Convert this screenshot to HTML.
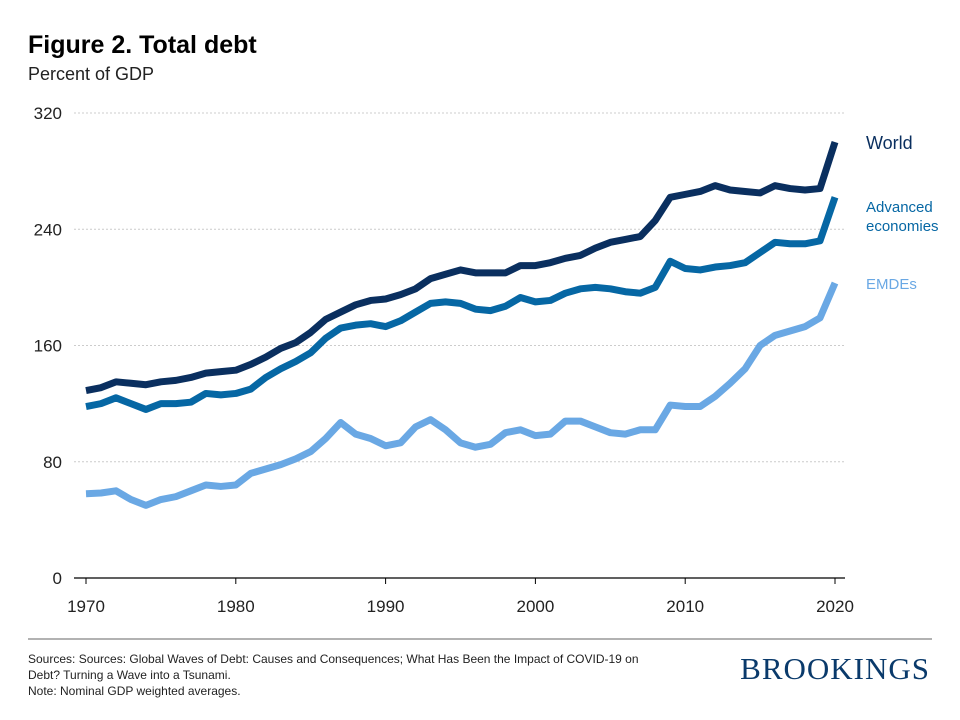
<!DOCTYPE html>
<html><head><meta charset="utf-8"><style>
body{margin:0;background:#fff;font-family:"Liberation Sans",sans-serif;}
#wrap{position:relative;width:960px;height:720px;overflow:hidden;}
</style></head><body>
<div id="wrap">
<svg id="chart" width="960" height="720">
<text x="28" y="53" font-size="25" font-weight="bold" fill="#000">Figure 2. Total debt</text>
<text x="28" y="80" font-size="18" fill="#222">Percent of GDP</text>
<g id="grid"></g><g id="lines"></g><g id="labels"></g>
<line x1="28" y1="639" x2="932" y2="639" stroke="#666" stroke-width="1"/>
<text font-size="12" fill="#222"><tspan x="28" y="663">Sources: Sources: Global Waves of Debt: Causes and Consequences; What Has Been the Impact of COVID-19 on</tspan><tspan x="28" y="679">Debt? Turning  a Wave into a Tsunami.</tspan><tspan x="28" y="695">Note: Nominal  GDP weighted  averages.</tspan></text>
<text x="930" y="679" text-anchor="end" font-family="Liberation Serif,serif" font-size="31" fill="#0a3a6b" letter-spacing="1">BROOKINGS</text>
</svg></div>
<script>
const years=[];for(let y=1970;y<=2020;y++)years.push(y);
const world=[129,131,135,134,133,135,136,138,141,142,143,147,152,158,162,169,178,183,188,191,192,195,199,206,209,212,210,210,210,215,215,217,220,222,227,231,233,235,246,262,264,266,270,267,266,265,270,268,267,268,300];
const advanced=[118,120,124,120,116,120,120,121,127,126,127,130,138,144,149,155,165,172,174,175,173,177,183,189,190,189,185,184,187,193,190,191,196,199,200,199,197,196,200,218,213,212,214,215,217,224,231,230,230,232,262];
const emdes=[58,58.5,60,54,50,54,56,60,64,63,64,72,75,78,82,87,96,107,99,96,91,93,104,109,102,93,90,92,100,102,98,99,108,108,104,100,99,102,102,119,118,118,125,134,144,160,167,170,173,179,203];
const yTicks=[0,80,160,240,320];
const xTicks=[1970,1980,1990,2000,2010,2020];
const NS="http://www.w3.org/2000/svg";
const X=v=>86+(v-1970)*(749/50);
const Y=v=>578-v*(465/320);
function mk(t,a,p){const e=document.createElementNS(NS,t);for(const k in a)e.setAttribute(k,a[k]);p.appendChild(e);return e;}
const grid=document.getElementById('grid'),lines=document.getElementById('lines'),labels=document.getElementById('labels');
yTicks.forEach(v=>{
 if(v>0){const g=mk('line',{x1:74,x2:845,y1:Y(v),y2:Y(v),stroke:'#ccc','stroke-dasharray':'2,2'},grid);
 
 }
 const t=mk('text',{x:62,y:Y(v)+6,'text-anchor':'end','font-size':17,fill:'#222'},labels);t.textContent=v;
 
 
});
const ax=mk('line',{x1:74,x2:845,y1:578,y2:578,stroke:'#000','stroke-width':1.2},grid);


xTicks.forEach(v=>{
 const tk=mk('line',{x1:X(v),x2:X(v),y1:578,y2:584,stroke:'#000'},grid);
 
 
 const t=mk('text',{x:X(v),y:612,'text-anchor':'middle','font-size':17,fill:'#222'},labels);t.textContent=v;
 
 
});
function series(data,color,name){
 const p=mk('polyline',{points:data.map((v,i)=>X(years[i])+','+Y(v)).join(' '),fill:'none',stroke:color,'stroke-width':7,'stroke-linejoin':'round'},lines);
 
 
}
series(emdes,'#6aa8e4','emdes-line');
series(advanced,'#0667a4','advanced-line');
series(world,'#0a2f5f','world-line');
function lab(txt,x,y,c,sz,name){const t=mk('text',{x:x,y:y,'font-size':sz,fill:c},labels);t.textContent=txt;
 
 }
lab('World',866,149,'#0a2f5f',18,'legend-world');
lab('Advanced',866,212,'#0667a4',15,'legend-advanced');
lab('economies',866,231,'#0667a4',15,'legend-advanced-2');
lab('EMDEs',866,289,'#6aa8e4',15,'legend-emdes');
</script></body></html>
